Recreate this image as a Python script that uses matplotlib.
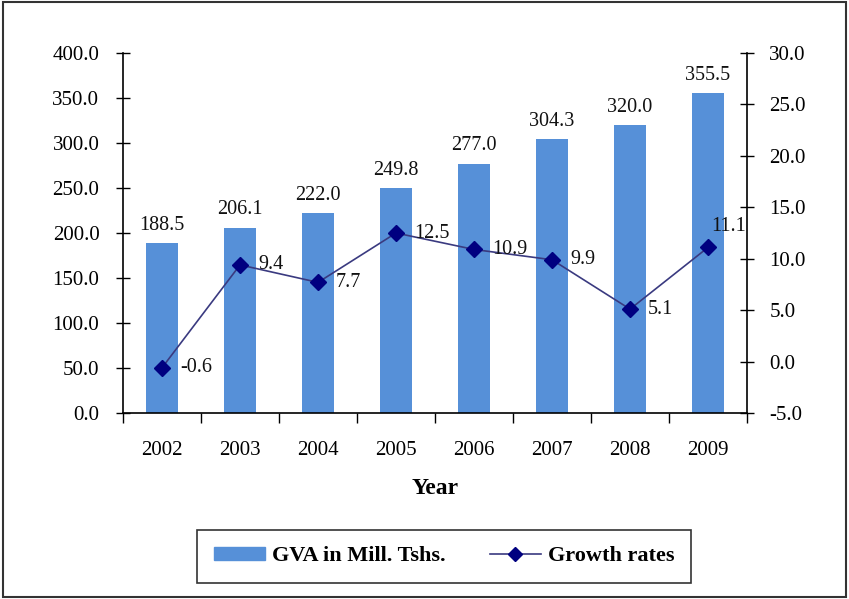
import numpy as np
import matplotlib.pyplot as plt
from matplotlib.patches import Rectangle

# data
years = ['2002', '2003', '2004', '2005', '2006', '2007', '2008', '2009']
gva = [188.5, 206.1, 222.0, 249.8, 277.0, 304.3, 320.0, 355.5]
growth = [-0.6, 9.4, 7.7, 12.5, 10.9, 9.9, 5.1, 11.1]

plt.rcParams['font.family'] = ['Liberation Serif', 'DejaVu Serif']

fig = plt.figure(figsize=(8.49, 5.99), dpi=100)
ax = fig.add_axes([0.1449, 0.3105, 0.735, 0.601])
ax2 = ax.twinx()

x = np.arange(len(years))
bar_color = '#5690D8'
line_color = '#3a3a80'
ax.bar(x, gva, width=0.4, color=bar_color, zorder=2)
for xi, v in zip(x, gva):
    ax.annotate(f'{v:.1f}', (xi, v), xytext=(0, 6), textcoords='offset points',
                ha='center', va='bottom', fontsize=14.5, color='#111111')

ax2.plot(x, growth, color=line_color, lw=1.2, marker='D', markersize=8,
         markerfacecolor='#000080', markeredgecolor='#000080', zorder=3)
for i, (xi, v) in enumerate(zip(x, growth)):
    off = (2, 15) if i == len(x) - 1 else (13, 0)
    ax2.annotate(f'{v:.1f}', (xi, v), xytext=off, textcoords='offset points',
                 ha='left', va='center', fontsize=14.5, color='#111111')

ax.set_xlim(-0.5, len(x) - 0.5)
ax.set_ylim(0, 400)
ax.set_yticks(np.arange(0, 401, 50))
ax.set_yticklabels([f'{t:.1f}' for t in np.arange(0, 401, 50)])
ax2.set_ylim(-5, 30)
ax2.set_yticks(np.arange(-5, 31, 5))
ax2.set_yticklabels([f'{t:.1f}' for t in np.arange(-5, 31, 5)])

ax.set_xticks(x)
ax.set_xticklabels(years)
ax.set_xticks(np.arange(-0.5, len(x)), minor=True)
ax.tick_params(axis='x', which='major', length=0, pad=20, labelsize=15)
ax.tick_params(axis='x', which='minor', length=7, direction='out', width=1)
ax.tick_params(axis='y', direction='inout', length=10, width=1, labelsize=15, pad=12)
ax2.tick_params(axis='y', direction='inout', length=10, width=1, labelsize=15, pad=11)

for a in (ax, ax2):
    a.spines['top'].set_visible(False)
    for s in ('left', 'right', 'bottom'):
        a.spines[s].set_linewidth(1.2)
ax.spines['right'].set_visible(False)
ax2.spines['left'].set_visible(False)
ax2.spines['bottom'].set_visible(False)

ax.set_xlabel('Year', fontsize=17, fontweight='bold', labelpad=13)

# legend
bar_handle = Rectangle((0, 0), 1, 1, color=bar_color)
line_handle, = ax2.plot([], [], color=line_color, lw=1.2, marker='D', markersize=7,
                        markerfacecolor='#000080', markeredgecolor='#000080')
leg = fig.legend([bar_handle, line_handle], ['GVA in Mill. Tshs.', 'Growth rates'],
                 loc='center', bbox_to_anchor=(0.523, 0.071), ncol=2,
                 prop={'size': 16, 'weight': 'bold'}, frameon=True, fancybox=False,
                 edgecolor='black', borderpad=0.75, columnspacing=2.0,
                 handlelength=2.3, handleheight=0.5, handletextpad=0.3)
leg.get_frame().set_linewidth(1.2)

# outer frame
fig.patches.append(Rectangle((0.004, 0.004), 0.992, 0.992, transform=fig.transFigure,
                             fill=False, edgecolor='#333333', lw=1.5))

fig.savefig('out.png', dpi=100)
